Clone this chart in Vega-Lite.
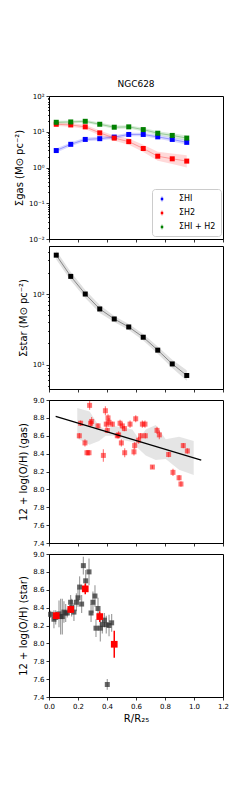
{
  "$schema": "https://vega.github.io/schema/vega-lite/v6.json",
  "background": "white",
  "padding": {"left": 14, "top": 79, "right": 0, "bottom": 0},
  "spacing": 2,
  "config": {
    "view": {"stroke": "black", "strokeWidth": 1},
    "axis": {"domainColor": "black", "tickColor": "black", "labelColor": "black", "titleColor": "black", "labelFont": "DejaVu Sans", "titleFont": "DejaVu Sans", "labelFontSize": 7, "titleFontSize": 10, "titleFontWeight": "normal", "grid": false, "tickSize": 3, "labelPadding": 2, "titlePadding": 4, "domainWidth": 1, "tickWidth": 0.8, "labelOverlap": false, "labelFlush": false}
  },
  "datasets": {
    "gas": [
      {"r": 0.05, "s": "ΣHI", "v": 2.98, "lo": 2.6, "hi": 3.4},
      {"r": 0.15, "s": "ΣHI", "v": 4.45, "lo": 3.9, "hi": 5.0},
      {"r": 0.25, "s": "ΣHI", "v": 6.1, "lo": 5.4, "hi": 6.9},
      {"r": 0.35, "s": "ΣHI", "v": 6.4, "lo": 5.7, "hi": 7.2},
      {"r": 0.45, "s": "ΣHI", "v": 7.1, "lo": 6.3, "hi": 8.0},
      {"r": 0.55, "s": "ΣHI", "v": 8.4, "lo": 7.5, "hi": 9.4},
      {"r": 0.65, "s": "ΣHI", "v": 8.4, "lo": 7.5, "hi": 9.4},
      {"r": 0.75, "s": "ΣHI", "v": 7.2, "lo": 6.4, "hi": 8.1},
      {"r": 0.85, "s": "ΣHI", "v": 6.1, "lo": 5.3, "hi": 7.0},
      {"r": 0.95, "s": "ΣHI", "v": 5.05, "lo": 4.3, "hi": 5.9},
      {"r": 0.05, "s": "ΣH2", "v": 16.2, "lo": 14.5, "hi": 18.0},
      {"r": 0.15, "s": "ΣH2", "v": 15.5, "lo": 13.8, "hi": 17.3},
      {"r": 0.25, "s": "ΣH2", "v": 13.7, "lo": 12.0, "hi": 15.6},
      {"r": 0.35, "s": "ΣH2", "v": 9.3, "lo": 7.9, "hi": 10.9},
      {"r": 0.45, "s": "ΣH2", "v": 6.65, "lo": 5.6, "hi": 7.9},
      {"r": 0.55, "s": "ΣH2", "v": 5.3, "lo": 4.3, "hi": 6.5},
      {"r": 0.65, "s": "ΣH2", "v": 3.4, "lo": 2.7, "hi": 4.3},
      {"r": 0.75, "s": "ΣH2", "v": 2.07, "lo": 1.55, "hi": 2.75},
      {"r": 0.85, "s": "ΣH2", "v": 1.75, "lo": 1.25, "hi": 2.45},
      {"r": 0.95, "s": "ΣH2", "v": 1.51, "lo": 1.0, "hi": 2.2},
      {"r": 0.05, "s": "ΣHI + H2", "v": 18.4, "lo": 16.8, "hi": 20.2},
      {"r": 0.15, "s": "ΣHI + H2", "v": 18.8, "lo": 17.1, "hi": 20.6},
      {"r": 0.25, "s": "ΣHI + H2", "v": 19.6, "lo": 17.8, "hi": 21.5},
      {"r": 0.35, "s": "ΣHI + H2", "v": 16.2, "lo": 14.6, "hi": 18.0},
      {"r": 0.45, "s": "ΣHI + H2", "v": 13.4, "lo": 12.0, "hi": 15.0},
      {"r": 0.55, "s": "ΣHI + H2", "v": 13.7, "lo": 12.3, "hi": 15.3},
      {"r": 0.65, "s": "ΣHI + H2", "v": 11.5, "lo": 10.2, "hi": 13.0},
      {"r": 0.75, "s": "ΣHI + H2", "v": 9.1, "lo": 8.0, "hi": 10.4},
      {"r": 0.85, "s": "ΣHI + H2", "v": 7.9, "lo": 6.9, "hi": 9.1},
      {"r": 0.95, "s": "ΣHI + H2", "v": 6.65, "lo": 5.7, "hi": 7.8}
    ],
    "star": [
      {"r": 0.05, "v": 356, "lo": 310, "hi": 410},
      {"r": 0.15, "v": 178, "lo": 155, "hi": 205},
      {"r": 0.25, "v": 100, "lo": 88, "hi": 114},
      {"r": 0.35, "v": 61.4, "lo": 54, "hi": 70},
      {"r": 0.45, "v": 44.3, "lo": 40, "hi": 49},
      {"r": 0.55, "v": 34.1, "lo": 31, "hi": 37.5},
      {"r": 0.65, "v": 24.4, "lo": 22, "hi": 27.2},
      {"r": 0.75, "v": 16.0, "lo": 14.2, "hi": 18.0},
      {"r": 0.85, "v": 10.2, "lo": 8.9, "hi": 11.7},
      {"r": 0.95, "v": 7.0, "lo": 5.9, "hi": 8.3}
    ],
    "ohgas": [
      {"r": 0.209, "v": 8.60, "lo": 8.57, "hi": 8.63},
      {"r": 0.218, "v": 8.74, "lo": 8.71, "hi": 8.77},
      {"r": 0.248, "v": 8.52, "lo": 8.48, "hi": 8.56},
      {"r": 0.262, "v": 8.41, "lo": 8.38, "hi": 8.44},
      {"r": 0.276, "v": 8.41, "lo": 8.38, "hi": 8.44},
      {"r": 0.280, "v": 8.94, "lo": 8.89, "hi": 8.99},
      {"r": 0.287, "v": 8.74, "lo": 8.70, "hi": 8.78},
      {"r": 0.294, "v": 8.76, "lo": 8.71, "hi": 8.81},
      {"r": 0.338, "v": 8.71, "lo": 8.68, "hi": 8.74},
      {"r": 0.375, "v": 8.38, "lo": 8.31, "hi": 8.45},
      {"r": 0.389, "v": 8.88, "lo": 8.83, "hi": 8.93},
      {"r": 0.395, "v": 8.73, "lo": 8.69, "hi": 8.77},
      {"r": 0.402, "v": 8.66, "lo": 8.63, "hi": 8.69},
      {"r": 0.407, "v": 8.80, "lo": 8.76, "hi": 8.84},
      {"r": 0.414, "v": 8.75, "lo": 8.70, "hi": 8.80},
      {"r": 0.437, "v": 8.73, "lo": 8.70, "hi": 8.76},
      {"r": 0.471, "v": 8.60, "lo": 8.57, "hi": 8.63},
      {"r": 0.480, "v": 8.61, "lo": 8.57, "hi": 8.65},
      {"r": 0.490, "v": 8.74, "lo": 8.70, "hi": 8.78},
      {"r": 0.499, "v": 8.52, "lo": 8.48, "hi": 8.56},
      {"r": 0.506, "v": 8.71, "lo": 8.67, "hi": 8.75},
      {"r": 0.520, "v": 8.68, "lo": 8.65, "hi": 8.71},
      {"r": 0.522, "v": 8.41, "lo": 8.36, "hi": 8.46},
      {"r": 0.559, "v": 8.73, "lo": 8.69, "hi": 8.77},
      {"r": 0.586, "v": 8.42, "lo": 8.38, "hi": 8.46},
      {"r": 0.591, "v": 8.49, "lo": 8.45, "hi": 8.53},
      {"r": 0.598, "v": 8.79, "lo": 8.75, "hi": 8.83},
      {"r": 0.618, "v": 8.55, "lo": 8.51, "hi": 8.59},
      {"r": 0.632, "v": 8.60, "lo": 8.57, "hi": 8.63},
      {"r": 0.644, "v": 8.73, "lo": 8.69, "hi": 8.77},
      {"r": 0.662, "v": 8.73, "lo": 8.69, "hi": 8.77},
      {"r": 0.664, "v": 8.60, "lo": 8.57, "hi": 8.63},
      {"r": 0.713, "v": 8.25, "lo": 8.23, "hi": 8.27},
      {"r": 0.745, "v": 8.66, "lo": 8.62, "hi": 8.70},
      {"r": 0.761, "v": 8.61, "lo": 8.56, "hi": 8.66},
      {"r": 0.825, "v": 8.39, "lo": 8.36, "hi": 8.42},
      {"r": 0.855, "v": 8.19, "lo": 8.15, "hi": 8.23},
      {"r": 0.897, "v": 8.13, "lo": 8.10, "hi": 8.16},
      {"r": 0.910, "v": 8.06, "lo": 8.03, "hi": 8.09},
      {"r": 0.926, "v": 8.49, "lo": 8.46, "hi": 8.52},
      {"r": 0.954, "v": 8.43, "lo": 8.40, "hi": 8.46}
    ],
    "band": [
      {"r": 0.195, "lo": 8.57, "hi": 8.91},
      {"r": 0.28, "lo": 8.50, "hi": 8.87},
      {"r": 0.345, "lo": 8.54, "hi": 8.71},
      {"r": 0.391, "lo": 8.60, "hi": 8.67},
      {"r": 0.448, "lo": 8.60, "hi": 8.71},
      {"r": 0.52, "lo": 8.55, "hi": 8.69},
      {"r": 0.575, "lo": 8.53, "hi": 8.67},
      {"r": 0.621, "lo": 8.45, "hi": 8.56},
      {"r": 0.667, "lo": 8.38, "hi": 8.67},
      {"r": 0.736, "lo": 8.33, "hi": 8.72},
      {"r": 0.805, "lo": 8.34, "hi": 8.56},
      {"r": 0.897, "lo": 8.22, "hi": 8.59},
      {"r": 0.998, "lo": 8.16, "hi": 8.54}
    ],
    "fit": [
      {"r": 0.046, "v": 8.816},
      {"r": 1.05, "v": 8.327}
    ],
    "ohstar": [
      {"r": 0.011, "v": 8.325, "lo": 8.285, "hi": 8.365},
      {"r": 0.034, "v": 8.27, "lo": 8.17, "hi": 8.37},
      {"r": 0.046, "v": 8.29, "lo": 8.21, "hi": 8.37},
      {"r": 0.069, "v": 8.33, "lo": 8.18, "hi": 8.48},
      {"r": 0.080, "v": 8.30, "lo": 8.10, "hi": 8.50},
      {"r": 0.092, "v": 8.30, "lo": 8.10, "hi": 8.50},
      {"r": 0.103, "v": 8.35, "lo": 8.23, "hi": 8.47},
      {"r": 0.115, "v": 8.34, "lo": 8.24, "hi": 8.44},
      {"r": 0.126, "v": 8.34, "lo": 8.29, "hi": 8.39},
      {"r": 0.149, "v": 8.46, "lo": 8.38, "hi": 8.54},
      {"r": 0.156, "v": 8.40, "lo": 8.30, "hi": 8.50},
      {"r": 0.172, "v": 8.35, "lo": 8.25, "hi": 8.45},
      {"r": 0.189, "v": 8.46, "lo": 8.36, "hi": 8.56},
      {"r": 0.200, "v": 8.51, "lo": 8.41, "hi": 8.61},
      {"r": 0.211, "v": 8.63, "lo": 8.51, "hi": 8.75},
      {"r": 0.225, "v": 8.44, "lo": 8.34, "hi": 8.54},
      {"r": 0.237, "v": 8.87, "lo": 8.77, "hi": 8.97},
      {"r": 0.253, "v": 8.70, "lo": 8.58, "hi": 8.82},
      {"r": 0.276, "v": 8.80, "lo": 8.65, "hi": 8.95},
      {"r": 0.290, "v": 8.34, "lo": 8.24, "hi": 8.44},
      {"r": 0.303, "v": 8.46, "lo": 8.34, "hi": 8.58},
      {"r": 0.317, "v": 8.53, "lo": 8.41, "hi": 8.65},
      {"r": 0.324, "v": 8.17, "lo": 8.07, "hi": 8.27},
      {"r": 0.338, "v": 8.39, "lo": 8.27, "hi": 8.51},
      {"r": 0.354, "v": 8.17, "lo": 8.02, "hi": 8.32},
      {"r": 0.368, "v": 8.21, "lo": 8.11, "hi": 8.31},
      {"r": 0.382, "v": 8.26, "lo": 8.18, "hi": 8.34},
      {"r": 0.395, "v": 8.21, "lo": 8.11, "hi": 8.31},
      {"r": 0.414, "v": 8.20, "lo": 8.08, "hi": 8.32},
      {"r": 0.432, "v": 8.23, "lo": 8.13, "hi": 8.33},
      {"r": 0.402, "v": 7.54, "lo": 7.48, "hi": 7.60}
    ],
    "ohbin": [
      {"r": 0.05, "v": 8.31, "lo": 8.27, "hi": 8.35},
      {"r": 0.15, "v": 8.38, "lo": 8.34, "hi": 8.42},
      {"r": 0.25, "v": 8.61, "lo": 8.55, "hi": 8.67},
      {"r": 0.35, "v": 8.30, "lo": 8.24, "hi": 8.36},
      {"r": 0.45, "v": 7.99, "lo": 7.84, "hi": 8.14}
    ]
  },
  "vconcat": [
    {
      "width": 174,
      "height": 143,
      "title": {"text": "NGC628", "font": "DejaVu Sans", "fontSize": 9, "fontWeight": "normal", "offset": 3, "color": "black"},
      "data": {"name": "gas"},
      "resolve": {"scale": {"color": "independent"}, "legend": {"color": "independent"}},
      "encoding": {
        "x": {"field": "r", "type": "quantitative", "scale": {"domain": [0, 1.2], "nice": false}, "axis": {"values": [0, 0.2, 0.4, 0.6, 0.8, 1.0, 1.2], "labels": false, "title": null}},
        "y": {"field": "v", "type": "quantitative", "scale": {"type": "log", "domain": [0.01, 100], "nice": false},
          "axis": {"title": "Σgas (M⊙ pc⁻²)", "labelOverlap": false, "values": [0.01,0.02,0.03,0.04,0.05,0.06,0.07,0.08,0.09,0.1,0.2,0.3,0.4,0.5,0.6,0.7,0.8,0.9,1,2,3,4,5,6,7,8,9,10,20,30,40,50,60,70,80,90,100],
            "labelExpr": "datum.value==100?'10²':datum.value==10?'10¹':datum.value==1?'10⁰':datum.value==0.1?'10⁻¹':datum.value==0.01?'10⁻²':''",
            "tickSize": {"condition": {"test": "indexof([0.01,0.1,1,10,100], datum.value) >= 0", "value": 3}, "value": 1.5}}}
      },
      "layer": [
        {"mark": {"type": "area", "opacity": 0.15}, "encoding": {"y": {"field": "lo", "type": "quantitative"}, "y2": {"field": "hi"},
          "color": {"field": "s", "type": "nominal", "scale": {"domain": ["ΣHI", "ΣH2", "ΣHI + H2"], "range": ["#0000ff", "#ff0000", "#008000"]}, "legend": null}}},
        {"mark": {"type": "line", "opacity": 0.3, "strokeWidth": 1},
          "encoding": {"color": {"field": "s", "type": "nominal", "scale": {"domain": ["ΣHI", "ΣH2", "ΣHI + H2"], "range": ["#0000ff", "#ff0000", "#008000"]}, "legend": null}}},
        {"mark": {"type": "point", "shape": "square", "filled": true, "size": 25, "opacity": 1},
          "encoding": {"color": {"field": "s", "type": "nominal", "scale": {"domain": ["ΣHI", "ΣH2", "ΣHI + H2"], "range": ["#0000ff", "#ff0000", "#008000"]},
            "legend": {"title": null, "orient": "none", "legendX": 103, "legendY": 93, "fillColor": "white", "strokeColor": "#cccccc", "cornerRadius": 3, "padding": 5, "rowPadding": 5, "labelFont": "DejaVu Sans", "labelFontSize": 8, "labelColor": "black", "labelOffset": 12,
              "symbolType": "M-0.25,-0.25H0.25V0.25H-0.25Z M-0.05,-0.5H0.05V0.5H-0.05Z", "symbolSize": 100, "symbolStrokeWidth": 0, "symbolOpacity": 1}}}}
      ]
    },
    {
      "width": 174,
      "height": 143,
      "data": {"name": "star"},
      "encoding": {
        "x": {"field": "r", "type": "quantitative", "scale": {"domain": [0, 1.2], "nice": false}, "axis": {"values": [0, 0.2, 0.4, 0.6, 0.8, 1.0, 1.2], "labels": false, "title": null}},
        "y": {"field": "v", "type": "quantitative", "scale": {"type": "log", "domain": [4.5, 480], "nice": false},
          "axis": {"title": "Σstar (M⊙ pc⁻²)", "labelOverlap": false, "values": [5,6,7,8,9,10,20,30,40,50,60,70,80,90,100,200,300,400],
            "labelExpr": "datum.value==100?'10²':datum.value==10?'10¹':''",
            "tickSize": {"condition": {"test": "indexof([10,100], datum.value) >= 0", "value": 3}, "value": 1.5}}}
      },
      "layer": [
        {"mark": {"type": "area", "color": "#999999", "opacity": 0.3}, "encoding": {"y": {"field": "lo", "type": "quantitative"}, "y2": {"field": "hi"}}},
        {"mark": {"type": "line", "color": "#888888", "strokeWidth": 1}},
        {"mark": {"type": "point", "shape": "square", "filled": true, "size": 25, "color": "black", "opacity": 1}}
      ]
    },
    {
      "width": 174,
      "height": 143,
      "encoding": {
        "x": {"field": "r", "type": "quantitative", "scale": {"domain": [0, 1.2], "nice": false}, "axis": {"values": [0, 0.2, 0.4, 0.6, 0.8, 1.0, 1.2], "labels": false, "title": null}}
      },
      "layer": [
        {"data": {"name": "band"}, "mark": {"type": "area", "color": "#aaaaaa", "opacity": 0.3},
          "encoding": {"y": {"field": "lo", "type": "quantitative", "scale": {"domain": [7.4, 9.0], "nice": false, "zero": false},
            "axis": {"title": "12 + log(O/H) (gas)", "values": [7.4,7.6,7.8,8.0,8.2,8.4,8.6,8.8,9.0], "format": ".1f", "labelOverlap": false}}, "y2": {"field": "hi"}}},
        {"data": {"name": "ohgas"}, "mark": {"type": "rule", "color": "#ff0000", "opacity": 0.5, "strokeWidth": 1.2},
          "encoding": {"y": {"field": "lo", "type": "quantitative", "axis": {"title": "12 + log(O/H) (gas)", "values": [7.4,7.6,7.8,8.0,8.2,8.4,8.6,8.8,9.0], "format": ".1f", "labelOverlap": false}}, "y2": {"field": "hi"}}},
        {"data": {"name": "ohgas"}, "mark": {"type": "point", "shape": "square", "filled": true, "size": 25, "color": "#ff0000", "opacity": 0.55},
          "encoding": {"y": {"field": "v", "type": "quantitative", "axis": {"title": "12 + log(O/H) (gas)", "values": [7.4,7.6,7.8,8.0,8.2,8.4,8.6,8.8,9.0], "format": ".1f", "labelOverlap": false}}}},
        {"data": {"name": "fit"}, "mark": {"type": "line", "color": "black", "strokeWidth": 1.2},
          "encoding": {"y": {"field": "v", "type": "quantitative", "axis": {"title": "12 + log(O/H) (gas)", "values": [7.4,7.6,7.8,8.0,8.2,8.4,8.6,8.8,9.0], "format": ".1f", "labelOverlap": false}}}}
      ]
    },
    {
      "width": 174,
      "height": 143,
      "encoding": {
        "x": {"field": "r", "type": "quantitative", "scale": {"domain": [0, 1.2], "nice": false}, "axis": {"values": [0, 0.2, 0.4, 0.6, 0.8, 1.0, 1.2], "format": ".1f", "title": "R/R₂₅", "labelOverlap": false}}
      },
      "layer": [
        {"data": {"name": "ohstar"}, "mark": {"type": "rule", "color": "#888888", "opacity": 0.8, "strokeWidth": 1.2},
          "encoding": {"y": {"field": "lo", "type": "quantitative", "scale": {"domain": [7.4, 9.0], "nice": false, "zero": false},
            "axis": {"title": "12 + log(O/H) (star)", "values": [7.4,7.6,7.8,8.0,8.2,8.4,8.6,8.8,9.0], "format": ".1f", "labelOverlap": false}}, "y2": {"field": "hi"}}},
        {"data": {"name": "ohstar"}, "mark": {"type": "point", "shape": "square", "filled": true, "size": 25, "color": "#333333", "opacity": 0.75},
          "encoding": {"y": {"field": "v", "type": "quantitative", "axis": {"title": "12 + log(O/H) (star)", "values": [7.4,7.6,7.8,8.0,8.2,8.4,8.6,8.8,9.0], "format": ".1f", "labelOverlap": false}}}},
        {"data": {"name": "ohbin"}, "mark": {"type": "rule", "color": "#ff0000", "strokeWidth": 1.5},
          "encoding": {"y": {"field": "lo", "type": "quantitative", "axis": {"title": "12 + log(O/H) (star)", "values": [7.4,7.6,7.8,8.0,8.2,8.4,8.6,8.8,9.0], "format": ".1f", "labelOverlap": false}}, "y2": {"field": "hi"}}},
        {"data": {"name": "ohbin"}, "mark": {"type": "point", "shape": "square", "filled": true, "size": 45, "color": "#ff0000", "opacity": 1},
          "encoding": {"y": {"field": "v", "type": "quantitative", "axis": {"title": "12 + log(O/H) (star)", "values": [7.4,7.6,7.8,8.0,8.2,8.4,8.6,8.8,9.0], "format": ".1f", "labelOverlap": false}}}}
      ]
    }
  ]
}
